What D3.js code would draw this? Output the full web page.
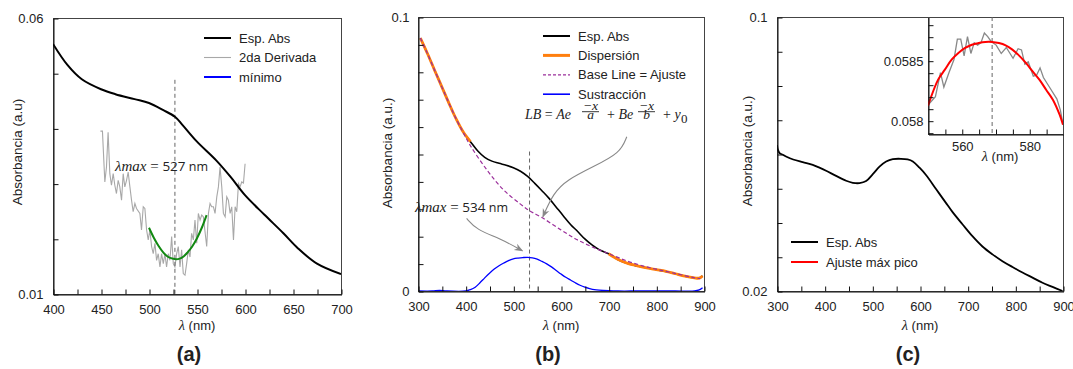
<!DOCTYPE html>
<html><head><meta charset="utf-8">
<script src="https://cdn.jsdelivr.net/npm/d3@7"></script>
<style>
body{margin:0;background:#fff}
svg{font-family:"Liberation Sans",Arial,Helvetica,sans-serif}
text{fill:#222}
</style>
</head><body>
<svg id="chart" width="1073" height="369"></svg>
<script>
// ---------------- Panel (a) ----------------
const aSpecX = [400,415,430,450,465,485,500,515,527,535,550,570,585,600,620,640,655,675,700];
const aSpecY = [0.0553,0.0515,0.0489,0.0471,0.0462,0.0453,0.0446,0.0433,0.0421,0.0406,0.0376,0.0342,0.0312,0.0279,0.0244,0.0210,0.0183,0.0155,0.0136];
const aDerX = [449.4,451.5,454.0,455.7,457.4,459.2,460.9,462.7,464.4,466.1,467.9,469.6,471.4,473.1,474.8,476.6,478.3,480.1,481.8,483.5,485.3,487.0,490.5,492.2,494.0,495.7,497.5,499.2,500.9,502.7,504.4,506.2,507.9,509.6,511.4,513.1,514.9,516.6,518.3,520.1,521.8,523.6,525.3,527.0,528.8,530.5,532.3,534.0,535.7,537.5,539.2,541.0,542.7,544.4,546.2,547.9,549.7,551.4,553.2,554.9,556.6,560.1,561.9,563.6,565.3,567.1,568.8,570.6,572.3,574.0,575.8,577.5,579.3,581.0,582.7,584.5,586.2,588.0,589.7,591.4,593.2,594.9,596.6,598.4,600.1];
const aDerY = [0.0395,0.0395,0.0303,0.0330,0.0393,0.0318,0.0297,0.0318,0.0297,0.0282,0.0306,0.0294,0.0270,0.0318,0.0294,0.0306,0.0321,0.0294,0.0270,0.0249,0.0264,0.0255,0.0246,0.0216,0.0258,0.0255,0.0216,0.0198,0.0216,0.0186,0.0173,0.0192,0.0161,0.0173,0.0149,0.0173,0.0155,0.0173,0.0149,0.0173,0.0161,0.0204,0.0155,0.0149,0.0173,0.0186,0.0149,0.0180,0.0137,0.0134,0.0155,0.0180,0.0167,0.0210,0.0198,0.0234,0.0192,0.0246,0.0234,0.0243,0.0240,0.0186,0.0246,0.0264,0.0258,0.0258,0.0246,0.0276,0.0294,0.0330,0.0294,0.0246,0.0240,0.0276,0.0270,0.0246,0.0258,0.0198,0.0258,0.0249,0.0300,0.0294,0.0303,0.0301,0.0336];
const aFitX = [500,505,510,515,520,525,528,532,536,540,545,550,555,560];
const aFitY = [0.0220,0.0202,0.0187,0.0175,0.0167,0.0164,0.0163,0.0164,0.0168,0.0175,0.0186,0.0201,0.0220,0.0243];
const aLambdaMax = 527, aLambdaTop = 0.0488;
const aXTicks = [400,425,450,475,500,525,550,575,600,625,650,675,700];
const aXLabels = [400,450,500,550,600,650,700];
const aYTicks = [0.01,0.02,0.03,0.04,0.05,0.06];
const aYLabels = [0.01,0.06];
const aLegend = ["Esp. Abs","2da Derivada","mínimo"];

// ---------------- Panel (b) ----------------
const bSpecX = [305,320,335,350,365,380,395,410,425,440,455,470,485,500,515,530,545,560,575,590,605,620,635,650,665,680,700,720,740,760,780,800,820,840,860,880,890,897];
const bSpecY = [0.0923,0.0866,0.0805,0.0745,0.0685,0.0628,0.0580,0.0545,0.0512,0.0488,0.0474,0.0466,0.0459,0.0450,0.0437,0.0418,0.0393,0.0366,0.0338,0.0306,0.0274,0.0243,0.0217,0.0190,0.0168,0.0151,0.0136,0.0114,0.0100,0.0091,0.0084,0.0078,0.0071,0.0063,0.0054,0.0048,0.0047,0.0055];
const bDisp1X = [305,320,335,350,365,380,395,410];
const bDisp1Y = [0.0923,0.0866,0.0805,0.0745,0.0685,0.0628,0.0580,0.0545];
const bDisp2X = [700,720,740,760,780,800,820,840,860,880,890,897];
const bDisp2Y = [0.0136,0.0115,0.0101,0.0092,0.0084,0.0078,0.0072,0.0063,0.0054,0.0048,0.0047,0.0055];
const bBaseX = [305,320,335,350,365,380,395,410,445,480,515,534,560,599,633,668,703,738,773,808,843,878,892];
const bBaseY = [0.0923,0.0866,0.0805,0.0745,0.0685,0.0628,0.0578,0.0530,0.0441,0.0368,0.0317,0.0293,0.0268,0.0224,0.0188,0.0159,0.0134,0.0110,0.0091,0.0076,0.0063,0.0049,0.0045];
const bSubX = [302,330,345,360,400,410,420,430,440,450,460,470,480,490,500,510,520,530,540,550,560,570,580,590,600,610,620,630,640,650,660,670,680,700,720,760,800,840,880,890,897];
const bSubY = [0,0,0.0002,0,0,0.0005,0.0014,0.0030,0.0048,0.0065,0.0080,0.0092,0.0102,0.0111,0.0117,0.0120,0.0122,0.0123,0.0121,0.0116,0.0108,0.0099,0.0088,0.0075,0.0062,0.0050,0.0040,0.0030,0.0021,0.0014,0.0009,0.0005,0.0003,0.0001,0,0,0,0,0,0.0004,0.0012];
const bLambdaMax = 534, bLambdaTop = 0.0509;
const bArrow1X = [402,423,472,519], bArrow1Y = [0.0265,0.0223,0.0192,0.0147];
const bArrow2X = [738,724,668,612,584,562], bArrow2Y = [0.0563,0.0503,0.0454,0.0405,0.0357,0.0271];
const bXTicks = [300,350,400,450,500,550,600,650,700,750,800,850,900];
const bXLabels = [300,400,500,600,700,800,900];
const bYTicks = [0,0.01,0.02,0.03,0.04,0.05,0.06,0.07,0.08,0.09,0.1];
const bYLabels = [0,0.1];
const bLegend = ["Esp. Abs","Dispersión","Base Line = Ajuste","Sustracción"];

// ---------------- Panel (c) ----------------
const cSpecX = [300,302,306,312,320,334,354,375,389,403,424,445,459,473,487,501,515,529,543,560,574,585,599,613,634,654,668,689,710,731,752,773,794,815,836,857,878,899];
const cSpecY = [0.0626,0.0612,0.0602,0.0598,0.0592,0.0584,0.0576,0.0568,0.0560,0.0551,0.0536,0.0522,0.0516,0.0515,0.0521,0.0541,0.0563,0.0578,0.0585,0.0586,0.0584,0.0578,0.0560,0.0538,0.0497,0.0458,0.0431,0.0395,0.0360,0.0330,0.0307,0.0287,0.0270,0.0254,0.0239,0.0224,0.0212,0.0200];
const cXTicks = bXTicks, cXLabels = bXLabels;
const cYTicks = [0.02,0.03,0.04,0.05,0.06,0.07,0.08,0.09,0.1];
const cYLabels = [0.02,0.1];
const cLegend = ["Esp. Abs","Ajuste máx pico"];
// inset
const iDataX = [550,552.2,553.7,554.7,556.2,557.7,558.7,559.7,560.7,561.7,562.7,563.7,564.7,565.7,566.7,567.7,568.7,570.2,571.7,573.2,575.2,576.7,577.7,578.7,579.7,581.2,582.2,583.2,584.2,586.2,588.2,589.2,590];
const iDataY = [0.05813,0.05820,0.05840,0.05828,0.05840,0.05851,0.05868,0.05868,0.05854,0.05870,0.05856,0.05865,0.05863,0.05865,0.05873,0.05870,0.05866,0.05863,0.05856,0.05861,0.05852,0.05860,0.05859,0.05847,0.05849,0.05837,0.05838,0.05844,0.05836,0.05827,0.05818,0.05809,0.05797];
const iFitX = [550,553,555,557,559,561,563,565,567,569,571,573,575,577,579,581,583,585,587,589,590];
const iFitY = [0.058125,0.058342,0.058425,0.058508,0.058564,0.058606,0.058633,0.058647,0.058656,0.058656,0.058647,0.058628,0.058592,0.058542,0.058481,0.058411,0.058342,0.058258,0.058175,0.058050,0.057967];
const iLambdaMax = 569;
const iXTicks = [555,560,565,570,575,580,585];
const iXLabels = [560,580];
const iYTicks = [0.0579,0.058,0.0581,0.0582,0.0583,0.0584,0.0585,0.0586,0.0587,0.0588];
const iYLabels = [0.058,0.0585];

// ---------------- drawing ----------------
const svg = d3.select("#chart");
const has = (arr, v) => arr.some(a => Math.abs(a - v) < 1e-9);
const zip = (xs, ys) => xs.map((x, i) => ({x, y: ys[i]}));
const SERIF = '"Liberation Serif","DejaVu Serif",serif';
const SANS = '"Liberation Sans",Arial,sans-serif';

function makePanel(o) {
  const x = d3.scaleLinear().domain(o.xd).range([o.left, o.right]);
  const y = d3.scaleLinear().domain(o.yd).range([o.bottom, o.top]);
  const g = svg.append("g");
  g.append("rect").attr("x", o.left + 0.5).attr("y", o.top + 0.5)
    .attr("width", o.right - o.left).attr("height", o.bottom - o.top)
    .attr("fill", o.fill || "none").attr("stroke", "#444").attr("stroke-width", 1);
  const clipId = "clip" + Math.random().toString(36).slice(2);
  g.append("clipPath").attr("id", clipId).append("rect")
    .attr("x", o.left).attr("y", o.top).attr("width", o.right - o.left).attr("height", o.bottom - o.top);
  const plot = g.append("g").attr("clip-path", `url(#${clipId})`);
  return {x, y, g, plot, o};
}

function drawAxes(P, xt, xl, yt, yl, fmtX, fmtY, pad) {
  const xa = d3.axisBottom(P.x).tickValues(xt).tickSizeInner(-5).tickSizeOuter(0)
    .tickPadding(pad.x).tickFormat(d => has(xl, d) ? fmtX(d) : "");
  const gx = P.g.append("g").attr("transform", `translate(0.5,${P.o.bottom + 0.5})`).call(xa);
  const ya = d3.axisLeft(P.y).tickValues(yt).tickSizeInner(-5).tickSizeOuter(0)
    .tickPadding(pad.y).tickFormat(d => has(yl, d) ? fmtY(d) : "");
  const gy = P.g.append("g").attr("transform", `translate(${P.o.left + 0.5},0.5)`).call(ya);
  [gx, gy].forEach(a => {
    a.attr("font-size", 13).attr("font-family", SANS);
    a.select(".domain").attr("stroke", "#111");
    a.selectAll(".tick line").attr("stroke", "#111");
    a.selectAll(".tick text").attr("fill", "#222");
  });
}

function lineOf(P, curve) {
  return d3.line().x(d => P.x(d.x)).y(d => P.y(d.y)).curve(curve || d3.curveCatmullRom.alpha(0.5));
}

function vline(P, xv, ytop) {
  P.plot.append("line").attr("x1", P.x(xv)).attr("x2", P.x(xv))
    .attr("y1", P.y(ytop)).attr("y2", P.o.bottom)
    .attr("stroke", "#666").attr("stroke-width", 1).attr("stroke-dasharray", "4,3");
}

function yTitle(P, text, dx, cy) {
  P.g.append("text").attr("transform", `translate(${P.o.left - dx},${cy}) rotate(-90)`)
    .attr("text-anchor", "middle").attr("dominant-baseline", "central")
    .attr("font-size", 13.5).text(text);
}
function xTitle(P, cx, baseline, size) {
  const t = P.g.append("text").attr("x", cx).attr("y", baseline).attr("text-anchor", "middle");
  t.append("tspan").attr("font-family", SERIF).attr("font-style", "italic").attr("font-size", (size || 13) + 1.5).text("λ");
  t.append("tspan").attr("font-size", size || 13).text(" (nm)");
}
function panelLabel(P, text, cx) {
  P.g.append("text").attr("x", cx).attr("y", 361).attr("text-anchor", "middle")
    .attr("font-size", 20).attr("font-weight", "bold").attr("fill", "#111").text(text);
}
function legend(P, items, x0, y0, dy) {
  items.forEach((it, i) => {
    const yy = y0 + i * dy;
    P.g.append("line").attr("x1", x0).attr("x2", x0 + 27).attr("y1", yy).attr("y2", yy)
      .attr("stroke", it.color).attr("stroke-width", it.w).attr("stroke-dasharray", it.dash || null);
    P.g.append("text").attr("x", x0 + 35).attr("y", yy).attr("dominant-baseline", "central")
      .attr("font-size", 13).text(it.label);
  });
}
function lambdaNote(P, xv, yv, val) {
  const t = P.g.append("text").attr("x", P.x(xv)).attr("y", P.y(yv)).attr("font-size", 15);
  t.append("tspan").attr("font-family", SERIF).attr("font-style", "italic").text("λ");
  t.append("tspan").attr("font-family", SERIF).attr("font-style", "italic").text("max");
  t.append("tspan").attr("font-family", SERIF).text(" = ");
  t.append("tspan").attr("font-family", '"Open Sans","Liberation Sans",sans-serif').attr("font-size", 13.5).text(val);
  t.append("tspan").attr("font-family", '"Open Sans","Liberation Sans",sans-serif').attr("font-size", 12.5).text(" nm");
}

// ===== Panel (a)
const A = makePanel({left: 53, right: 341, top: 18, bottom: 294, xd: [400, 700], yd: [0.01, 0.06]});
drawAxes(A, aXTicks, aXLabels, aYTicks, aYLabels, d3.format("d"), d => d3.format(".2f")(d), {x: 10, y: 10});
A.plot.append("path").datum(zip(aDerX, aDerY)).attr("d", lineOf(A, d3.curveLinear))
  .attr("fill", "none").attr("stroke", "#a8a8a8").attr("stroke-width", 1.1);
vline(A, aLambdaMax, aLambdaTop);
A.plot.append("path").datum(zip(aSpecX, aSpecY)).attr("d", lineOf(A))
  .attr("fill", "none").attr("stroke", "#000").attr("stroke-width", 2);
A.plot.append("path").datum(zip(aFitX, aFitY)).attr("d", lineOf(A))
  .attr("fill", "none").attr("stroke", "#118811").attr("stroke-width", 2);
lambdaNote(A, 464.5, 0.0323, "527");
legend(A, [
  {label: aLegend[0], color: "#000", w: 2},
  {label: aLegend[1], color: "#a8a8a8", w: 1.1},
  {label: aLegend[2], color: "#0000ff", w: 2}], 204, 38, 19.5);
yTitle(A, "Absorbancia (a.u)", 36, 152);
xTitle(A, 197, 330);
panelLabel(A, "(a)", 189);

// ===== Panel (b)
const B = makePanel({left: 418, right: 704, top: 17, bottom: 291, xd: [300, 900], yd: [0, 0.1]});
drawAxes(B, bXTicks, bXLabels, bYTicks, bYLabels, d3.format("d"), d => d === 0 ? "0" : "0.1", {x: 10, y: 9});
vline(B, bLambdaMax, bLambdaTop);
B.plot.append("path").datum(zip(bSpecX, bSpecY)).attr("d", lineOf(B))
  .attr("fill", "none").attr("stroke", "#000").attr("stroke-width", 1.6);
[zip(bDisp1X, bDisp1Y), zip(bDisp2X, bDisp2Y)].forEach(seg => {
  B.plot.append("path").datum(seg).attr("d", lineOf(B))
    .attr("fill", "none").attr("stroke", "#ff7f0e").attr("stroke-width", 2.8);
});
B.plot.append("path").datum(zip(bBaseX, bBaseY)).attr("d", lineOf(B))
  .attr("fill", "none").attr("stroke", "#9b2f9b").attr("stroke-width", 1.2).attr("stroke-dasharray", "4,2.5");
B.plot.append("path").datum(zip(bSubX, bSubY)).attr("d", lineOf(B))
  .attr("fill", "none").attr("stroke", "#0000ff").attr("stroke-width", 1.3);
// arrows
svg.append("defs").append("marker").attr("id", "arr").attr("viewBox", "0 0 10 10")
  .attr("refX", 9).attr("refY", 5).attr("markerWidth", 8).attr("markerHeight", 8)
  .attr("orient", "auto-start-reverse").append("path").attr("d", "M0,1 L10,5 L0,9 L3,5 Z").attr("fill", "#888");
[[bArrow1X, bArrow1Y], [bArrow2X, bArrow2Y]].forEach(([xs, ys]) => {
  B.g.append("path").datum(zip(xs, ys)).attr("d", lineOf(B, d3.curveBasis))
    .attr("fill", "none").attr("stroke", "#888").attr("stroke-width", 1.1).attr("marker-end", "url(#arr)");
});
lambdaNote(B, 293.5, 0.0288, "534");
// formula LB = Ae^{-x/a} + Be^{-x/b} + y0
(function () {
  const bx = B.x(524.5), by = B.y(0.0627);
  const T = (x, y, s, size, anchor, style) => B.g.append("text").attr("x", bx + x).attr("y", by + y)
    .attr("font-family", SERIF).attr("font-size", size).attr("font-style", style || "italic")
    .attr("text-anchor", anchor || "start").text(s);
  const t1 = B.g.append("text").attr("x", bx).attr("y", by).attr("font-family", SERIF).attr("font-size", 14);
  t1.append("tspan").attr("font-style", "italic").text("LB");
  t1.append("tspan").text(" = ");
  t1.append("tspan").attr("font-style", "italic").text("Ae");
  const frac = (cx, den) => {
    T(cx, -9.5, "−x", 13.5, "middle");
    B.g.append("line").attr("x1", bx + cx - 8.5).attr("x2", bx + cx + 8.5).attr("y1", by - 7.5).attr("y2", by - 7.5)
      .attr("stroke", "#222").attr("stroke-width", 0.9);
    T(cx, 0, den, 13.5, "middle");
  };
  frac(65.5, "a");
  const t2 = B.g.append("text").attr("x", bx + 82).attr("y", by).attr("font-family", SERIF).attr("font-size", 14);
  t2.append("tspan").text("+ ");
  t2.append("tspan").attr("font-style", "italic").text("Be");
  frac(121.5, "b");
  const t3 = B.g.append("text").attr("x", bx + 138).attr("y", by).attr("font-family", SERIF).attr("font-size", 14);
  t3.append("tspan").text("+ ");
  t3.append("tspan").attr("font-style", "italic").text("y");
  T(156, 4, "0", 13, "start", "normal");
})();
legend(B, [
  {label: bLegend[0], color: "#000", w: 2},
  {label: bLegend[1], color: "#ff7f0e", w: 3},
  {label: bLegend[2], color: "#9b2f9b", w: 1.2, dash: "3,2"},
  {label: bLegend[3], color: "#0000ff", w: 1.6}], 543, 36, 19.4);
yTitle(B, "Absorbancia (a.u.)", 31, 153);
xTitle(B, 561, 330);
panelLabel(B, "(b)", 548);

// ===== Panel (c)
const C = makePanel({left: 777, right: 1063, top: 17, bottom: 291, xd: [300, 900], yd: [0.02, 0.1]});
drawAxes(C, cXTicks, cXLabels, cYTicks, cYLabels, d3.format("d"), d => d3.format(".2~f")(d), {x: 10, y: 10});
C.plot.append("path").datum(zip(cSpecX, cSpecY)).attr("d", lineOf(C))
  .attr("fill", "none").attr("stroke", "#000").attr("stroke-width", 1.8);
legend(C, [
  {label: cLegend[0], color: "#000", w: 2},
  {label: cLegend[1], color: "#ff0000", w: 2}], 791, 242, 20);
yTitle(C, "Absorbancia (a.u.)", 30, 151);
xTitle(C, 920, 330);
panelLabel(C, "(c)", 908);

// ===== Inset
const I = makePanel({left: 928, right: 1063, top: 17, bottom: 134, xd: [550, 590], yd: [0.057889, 0.058864], fill: "#fff"});
drawAxes(I, iXTicks, iXLabels, iYTicks, iYLabels, d3.format("d"), d => has([0.058], d) ? "0.058" : "0.0585", {x: 7, y: 5});
I.plot.append("path").datum(zip(iDataX, iDataY)).attr("d", lineOf(I, d3.curveLinear))
  .attr("fill", "none").attr("stroke", "#888").attr("stroke-width", 1.3);
vline(I, iLambdaMax, 0.058864);
I.plot.append("path").datum(zip(iFitX, iFitY)).attr("d", lineOf(I))
  .attr("fill", "none").attr("stroke", "#ff0000").attr("stroke-width", 2);
xTitle(I, 1000, 161);
</script>
</body></html>
